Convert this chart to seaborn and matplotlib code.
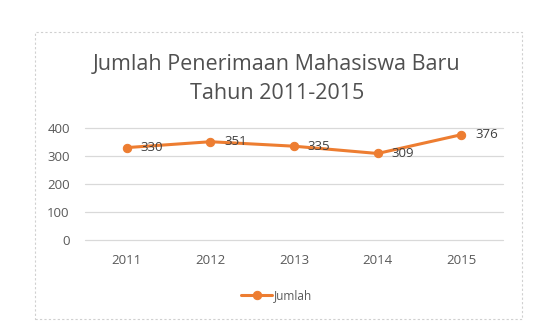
import matplotlib
matplotlib.use("Agg")
import matplotlib.pyplot as plt
import seaborn as sns
import pandas as pd
from matplotlib.patches import Rectangle

years = ["2011", "2012", "2013", "2014", "2015"]
jumlah = [330, 351, 335, 309, 376]
series_name = "Jumlah"
title = "Jumlah Penerimaan Mahasiswa Baru\nTahun 2011-2015"

sns.set_style("white")
plt.rcParams["font.family"] = ["Open Sans", "DejaVu Sans"]

df = pd.DataFrame({"pos": range(len(years)), "Tahun": years, series_name: jumlah})

orange = "#ED7D31"
gray_text = "#595959"

fig = plt.figure(figsize=(5.45, 3.36), dpi=100)
ax = fig.add_axes([85 / 545, 1 - 240 / 336, 418 / 545, 112 / 336])

sns.lineplot(data=df, x="pos", y=series_name, color=orange, linewidth=2.2,
             marker="o", markersize=6, markeredgecolor=orange, label=series_name,
             ax=ax, legend=False)

# value labels sit right of each point
for x, y in zip(df["pos"], df[series_name]):
    ax.annotate(str(y), (x, y), xytext=(10, 0), textcoords="offset points",
                fontsize=9.5, color="#404040", va="center", ha="left")

ax.set_xlim(-0.5, len(years) - 0.5)
ax.set_ylim(0, 400)
ax.set_yticks([0, 100, 200, 300, 400])
ax.set_xticks(df["pos"])
ax.set_xticklabels(years)
ax.set_xlabel("")
ax.set_ylabel("")
ax.grid(axis="y", color="#d9d9d9", linewidth=0.9)
ax.grid(axis="x", visible=False)
for gl in ax.get_ygridlines():
    gl.set_clip_on(False)
for s in ax.spines.values():
    s.set_visible(False)
ax.tick_params(axis="both", length=0, labelsize=9.5, colors=gray_text)
ax.tick_params(axis="y", pad=11)
ax.tick_params(axis="x", pad=10)
ax.set_axisbelow(True)

fig.text(277 / 545, 1 - 79 / 336, title, ha="center", va="center",
         fontsize=15.5, color="#505050", linespacing=1.45)

handles, labels = ax.get_lines()[:1], [series_name]
fig.legend(handles, labels, loc="center", bbox_to_anchor=(277 / 545, 1 - 296 / 336),
           frameon=False, fontsize=8.5, labelcolor=gray_text, handlelength=2.6,
           handletextpad=0.2)

fig.patches.append(Rectangle((35 / 545, 1 - 319 / 336), 487 / 545, 287 / 336,
                             transform=fig.transFigure, fill=False,
                             edgecolor="#d0d0d0", linestyle=(0, (2, 2)), linewidth=0.8))

fig.savefig("out.png", dpi=100, facecolor="white")
